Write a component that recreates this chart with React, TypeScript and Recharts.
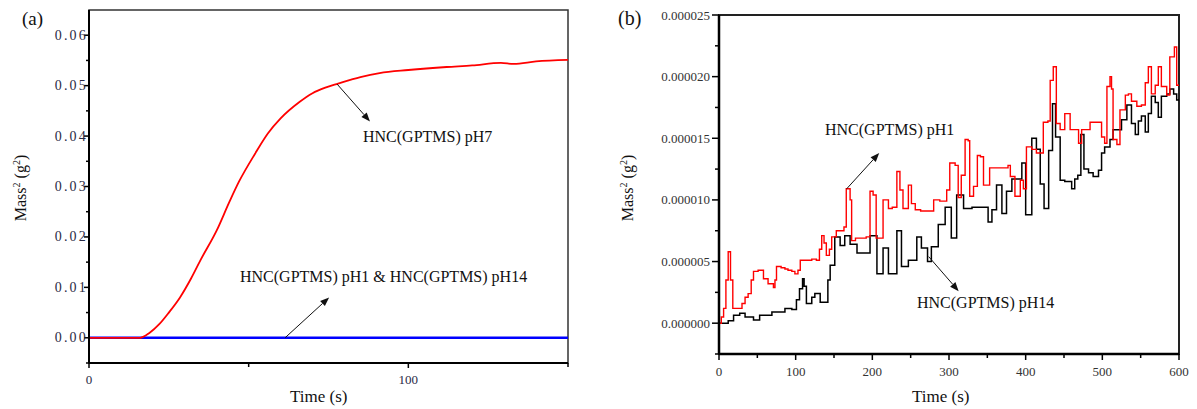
import { LineChart, Line, XAxis, YAxis, ReferenceArea, ReferenceLine } from 'recharts';

// (a) mass² vs time, pH7 rises, pH1 / pH14 stay flat at zero
const aTime = [0, 10, 16, 19, 22, 25, 28.5, 32, 35, 40, 44, 47, 52, 56, 60, 66, 70, 74, 78, 85, 91, 100, 112, 120, 129, 133, 140, 150];
const aPH7 = [0, 0, 0, 0.001, 0.0027, 0.005, 0.008, 0.0118, 0.0155, 0.0213, 0.027, 0.031, 0.0365, 0.0405, 0.0435, 0.0468, 0.0485, 0.0496, 0.0504, 0.0517, 0.0525, 0.0531, 0.0537, 0.054, 0.0545, 0.0543, 0.0548, 0.0551];
const aFlatTime = [0, 150];
const aFlat = [0, 0];
const aTimeTicks = [0, 50, 100, 150];
const aTimeLabels = [0, 100];
const aMassTicks = [-0.005, 0, 0.005, 0.01, 0.015, 0.02, 0.025, 0.03, 0.035, 0.04, 0.045, 0.05, 0.055, 0.06];
const aMassLabels = [0, 0.01, 0.02, 0.03, 0.04, 0.05, 0.06];

// (b) values in 1e-6 g²
const bPH1Time = [0, 3, 6, 9, 12, 15, 18, 25, 30, 34, 38, 42, 45, 51, 54, 58, 64, 71, 73, 75, 81, 86, 90, 95, 99, 103, 106, 115, 121, 127, 131, 134, 137, 140, 144, 147, 153, 160, 163, 166, 171, 173, 178, 185, 192, 197, 201, 205, 210, 214, 221, 226, 232, 236, 240, 247, 251, 256, 263, 271, 280, 288, 297, 301, 308, 312, 316, 321, 325, 327, 332, 337, 341, 345, 349, 353, 363, 373, 377, 380, 386, 393, 397, 401, 408, 414, 423, 429, 432, 436, 440, 445, 451, 458, 464, 469, 473, 477, 484, 495, 499, 503, 506, 510, 512, 514, 519, 523, 530, 534, 538, 545, 551, 556, 560, 564, 569, 573, 577, 584, 588, 594, 597, 600];
const bPH1 = [0, 0.5, 1.2, 3.5, 5.8, 3.5, 1.2, 1.2, 1.6, 2.1, 2.4, 3.5, 4.2, 4.3, 4.3, 3.6, 3.2, 2.9, 3.5, 4.6, 4.5, 4.4, 4.3, 4.2, 4.0, 4.3, 5.1, 5.1, 5.2, 5.1, 6.0, 7.1, 6.5, 5.5, 6.0, 7.0, 7.5, 7.5, 7.8, 10.9, 10.0, 6.7, 6.9, 6.9, 7.0, 10.7, 10.4, 6.9, 6.9, 10.0, 9.3, 9.4, 12.3, 10.8, 9.3, 11.2, 9.7, 9.2, 9.1, 9.1, 10.0, 9.9, 10.8, 13.0, 12.8, 10.2, 12.0, 14.9, 14.8, 10.3, 11.1, 13.6, 13.5, 11.2, 11.2, 12.6, 12.6, 12.6, 12.8, 11.9, 10.3, 11.6, 10.9, 14.3, 14.1, 13.8, 16.3, 16.4, 19.7, 20.8, 16.2, 15.7, 17.0, 15.7, 15.7, 14.6, 15.7, 15.7, 16.3, 16.3, 15.1, 14.6, 19.2, 20.0, 19.0, 14.9, 14.5, 17.3, 18.5, 18.6, 18.0, 17.6, 17.7, 19.5, 20.8, 18.6, 19.3, 20.8, 19.2, 18.5, 21.6, 22.4, 19.3, 19.3];
const bPH14Time = [0, 12, 19, 27, 34, 45, 53, 60, 69, 80, 86, 95, 101, 105, 109, 111, 114, 121, 125, 132, 140, 142, 145, 151, 158, 164, 171, 180, 188, 197, 206, 214, 221, 232, 238, 247, 258, 264, 272, 277, 286, 295, 303, 310, 319, 323, 330, 347, 351, 356, 362, 369, 375, 382, 388, 395, 400, 408, 414, 419, 424, 430, 435, 439, 445, 451, 460, 464, 468, 472, 476, 482, 488, 495, 499, 503, 510, 514, 521, 525, 532, 538, 543, 547, 551, 556, 560, 564, 569, 573, 577, 584, 588, 593, 597, 600];
const bPH14 = [0, 0.2, 0.65, 0.8, 0.5, 0.25, 0.65, 0.65, 0.9, 0.9, 1.2, 1.1, 1.9, 2.8, 3.6, 3.0, 1.6, 2.1, 2.4, 1.7, 1.7, 3.5, 4.7, 7.0, 6.3, 7.1, 6.4, 5.7, 5.7, 7.1, 4.0, 6.1, 4.0, 7.5, 4.6, 5.1, 7.0, 6.1, 5.0, 6.2, 8.0, 9.4, 6.9, 10.4, 9.3, 9.3, 9.4, 9.4, 8.2, 9.2, 11.2, 8.9, 10.7, 11.7, 11.7, 13.0, 8.8, 15.0, 14.1, 11.3, 9.3, 14.0, 17.8, 15.1, 11.6, 11.5, 10.9, 11.7, 12.0, 15.3, 12.5, 12.2, 11.9, 12.4, 13.8, 14.3, 14.9, 15.7, 15.7, 16.5, 17.7, 16.2, 15.3, 16.4, 16.8, 15.5, 17.0, 18.4, 17.9, 16.7, 18.4, 18.6, 19.0, 18.6, 18.1, 18.2];
const bTimeTicks = [0, 50, 100, 150, 200, 250, 300, 350, 400, 450, 500, 550, 600];
const bTimeLabels = [0, 100, 200, 300, 400, 500, 600];
const bMassTicks = [-2.5, 0, 2.5, 5, 7.5, 10, 12.5, 15, 17.5, 20, 22.5, 25];
const bMassLabels = [0, 5, 10, 15, 20, 25];

const rows = (ts: number[], vs: number[]) => ts.map((t, i) => ({ t, m: vs[i] }));
const aPH7Rows = rows(aTime, aPH7);
const aFlatRows = rows(aFlatTime, aFlat);
const bPH1Rows = rows(bPH1Time, bPH1);
const bPH14Rows = rows(bPH14Time, bPH14);

const serif = "'Liberation Serif', 'Times New Roman', serif";

type TickOpts = {
  side: 'x' | 'y';
  labels: number[];
  fmt: (v: number) => string;
  major: number;
  minor: number;
  offset: number;
  color: string;
  size?: number;
  spacing?: number;
};

function makeTick(o: TickOpts) {
  return (props: any) => {
    const { x, y, payload } = props;
    const v = payload.value;
    const isMajor = o.labels.some((l) => Math.abs(l - v) < 1e-9);
    const len = isMajor ? o.major : o.minor;
    const fs = o.size || 13;
    if (o.side === 'y') {
      return (
        <g>
          <line x1={x} y1={y} x2={x - len} y2={y} stroke="#000" strokeWidth={1.5} />
          {isMajor && (
            <text x={x - o.offset} y={y + 4.5} textAnchor="end" fontSize={fs} fontFamily={serif} fill={o.color} letterSpacing={o.spacing || 0}>
              {o.fmt(v)}
            </text>
          )}
        </g>
      );
    }
    return (
      <g>
        <line x1={x} y1={y} x2={x} y2={y + len} stroke="#000" strokeWidth={1.5} />
        {isMajor && (
          <text x={x} y={y + o.offset} textAnchor="middle" fontSize={fs} fontFamily={serif} fill={o.color}>
            {o.fmt(v)}
          </text>
        )}
      </g>
    );
  };
}

const Arrow = (p: any) => {
  const { x1, y1, x2, y2 } = p;
  const ang = Math.atan2(y2 - y1, x2 - x1);
  const L = 9;
  const W = 3.5;
  const bx = x2 - L * Math.cos(ang);
  const by = y2 - L * Math.sin(ang);
  const pts = `${x2},${y2} ${bx - W * Math.sin(ang)},${by + W * Math.cos(ang)} ${bx + W * Math.sin(ang)},${by - W * Math.cos(ang)}`;
  return (
    <g>
      <line x1={x1} y1={y1} x2={bx} y2={by} stroke="#111" strokeWidth={1} />
      <polygon points={pts} fill="#111" />
    </g>
  );
};

const txt = (left: number, top: number, size: number, children: any, extra: any = {}) => (
  <div
    style={{
      position: 'absolute',
      left,
      top,
      fontFamily: serif,
      fontSize: size,
      lineHeight: 1,
      color: '#111',
      whiteSpace: 'nowrap',
      transform: 'translateY(-50%)',
      ...extra,
    }}
  >
    {children}
  </div>
);

const massLabel = (
  <span>
    Mass<sup style={{ fontSize: 10 }}>2</sup> (g<sup style={{ fontSize: 10 }}>2</sup>)
  </span>
);

export default function App() {
  return (
    <div style={{ position: 'absolute', left: 0, top: 0, width: 1197, height: 409, background: '#fff' }}>
      <div style={{ position: 'absolute', left: 0, top: 0 }}>
        <LineChart width={600} height={409} margin={{ top: 10, right: 32, bottom: 0, left: 0 }}>
          <XAxis
            dataKey="t"
            type="number"
            domain={[0, 150]}
            allowDataOverflow
            ticks={aTimeTicks}
            interval={0}
            height={46}
            tickSize={0}
            tickMargin={0}
            tickLine={false}
            axisLine={{ stroke: '#000', strokeWidth: 2 }}
            tick={makeTick({ side: 'x', labels: aTimeLabels, fmt: (v) => String(v), major: 5, minor: 4, offset: 21, color: '#2a2a45' })}
          />
          <YAxis
            type="number"
            domain={[-0.005, 0.065]}
            allowDataOverflow
            ticks={aMassTicks}
            interval={0}
            width={89}
            tickSize={0}
            tickMargin={0}
            tickLine={false}
            axisLine={{ stroke: '#000', strokeWidth: 2 }}
            tick={makeTick({ side: 'y', labels: aMassLabels, fmt: (v) => v.toFixed(2), major: 5, minor: 3, offset: 1, color: '#2a2a45', size: 14, spacing: 2.2 })}
          />
          <ReferenceArea x1={0} x2={150} y1={-0.005} y2={0.065} fill="none" stroke="#333" strokeWidth={1.5} ifOverflow="visible" />
          <Line data={aFlatRows} dataKey="m" type="linear" stroke="#0000ff" strokeWidth={2.5} dot={false} isAnimationActive={false} />
          <Line data={aPH7Rows} dataKey="m" type="monotone" stroke="#ff0000" strokeWidth={1.8} dot={false} isAnimationActive={false} />
          <ReferenceLine segment={[{ x: 77.7, y: 0.0503 }, { x: 88, y: 0.0429 }]} shape={Arrow} ifOverflow="visible" />
          <ReferenceLine segment={[{ x: 61.4, y: 0 }, { x: 75.2, y: 0.008 }]} shape={Arrow} ifOverflow="visible" />
        </LineChart>
      </div>

      <div style={{ position: 'absolute', left: 600, top: 0 }}>
        <LineChart width={597} height={409} margin={{ top: 15, right: 18, bottom: 0, left: 0 }}>
          <XAxis
            dataKey="t"
            type="number"
            domain={[0, 600]}
            allowDataOverflow
            ticks={bTimeTicks}
            interval={0}
            height={55}
            tickSize={0}
            tickMargin={0}
            tickLine={false}
            axisLine={{ stroke: '#000', strokeWidth: 2.5 }}
            tick={makeTick({ side: 'x', labels: bTimeLabels, fmt: (v) => String(v), major: 6, minor: 4, offset: 22, color: '#333' })}
          />
          <YAxis
            type="number"
            domain={[-2.5, 25]}
            allowDataOverflow
            ticks={bMassTicks}
            interval={0}
            width={119}
            tickSize={0}
            tickMargin={0}
            tickLine={false}
            axisLine={{ stroke: '#000', strokeWidth: 2.5 }}
            tick={makeTick({ side: 'y', labels: bMassLabels, fmt: (v) => (v * 1e-6).toFixed(6), major: 7, minor: 4, offset: 9, color: '#333' })}
          />
          <ReferenceArea x1={0} x2={600} y1={-2.5} y2={25} fill="none" stroke="#222" strokeWidth={2} ifOverflow="visible" />
          <Line data={bPH14Rows} dataKey="m" type="stepAfter" stroke="#000" strokeWidth={1.5} dot={false} isAnimationActive={false} />
          <Line data={bPH1Rows} dataKey="m" type="stepAfter" stroke="#ff0000" strokeWidth={1.4} dot={false} isAnimationActive={false} />
          <ReferenceLine segment={[{ x: 166.5, y: 10.9 }, { x: 209, y: 13.8 }]} shape={Arrow} ifOverflow="visible" />
          <ReferenceLine segment={[{ x: 273.5, y: 5.4 }, { x: 312.6, y: 2.6 }]} shape={Arrow} ifOverflow="visible" />
        </LineChart>
      </div>

      {txt(22, 18, 19, '(a)')}
      {txt(618, 18, 20, '(b)')}
      {txt(290, 396, 17, 'Time (s)')}
      {txt(912, 396, 17, 'Time (s)')}
      {txt(363, 137, 16, 'HNC(GPTMS) pH7')}
      {txt(240, 277, 16, 'HNC(GPTMS) pH1 & HNC(GPTMS) pH14')}
      {txt(825, 130, 16, 'HNC(GPTMS) pH1')}
      {txt(917, 303, 16, 'HNC(GPTMS) pH14')}
      {txt(21, 188, 16, massLabel, { transform: 'translate(-50%, -50%) rotate(-90deg)' })}
      {txt(628, 188, 16, massLabel, { transform: 'translate(-50%, -50%) rotate(-90deg)' })}
    </div>
  );
}
